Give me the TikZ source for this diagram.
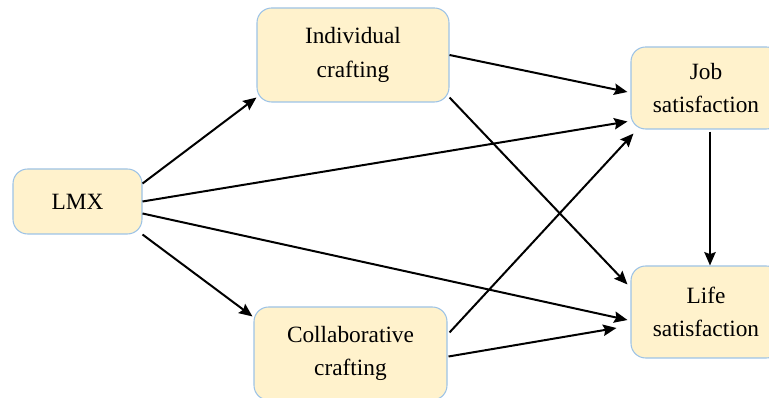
\documentclass[tikz,border=0pt]{standalone}
\usepackage{fontspec}
\setmainfont{Liberation Serif}
\usepackage{xcolor}
\usetikzlibrary{arrows.meta,positioning}
\definecolor{boxFill}{HTML}{FFF2CC}
\definecolor{boxEdge}{HTML}{9DC3E6}

\begin{document}
\begin{tikzpicture}[x=0.75pt, y=-0.75pt,
  var/.style={draw=boxEdge, fill=boxFill, rounded corners=11pt, line width=0.8pt,
    align=center, inner sep=2pt, font=\fontsize{17.5}{25}\selectfont},
  eff/.style={line width=1.5pt, -{Stealth[length=10pt,width=8.5pt,inset=1.5pt]}}]
\useasboundingbox (0,0) rectangle (769,398);
% variables
\node[var, minimum width=96.75pt, minimum height=48.75pt] (lmx) at (77.5,201.5) {LMX};
\node[var, minimum width=144pt, minimum height=70.5pt] (ind) at (353,55) {Individual\\crafting};
\node[var, minimum width=144.75pt, minimum height=69.75pt] (col) at (350.5,353.5) {Collaborative\\crafting};
\node[var, minimum width=112.5pt, minimum height=61.5pt] (job) at (706,88) {Job\\satisfaction};
\node[var, minimum width=112.5pt, minimum height=69pt] (life) at (706,312) {Life\\satisfaction};
% paths from LMX
\draw[eff] ([shift={(0,-18)}]lmx.east) -- ([shift={(0,-5)}]ind.south west);
\draw[eff] (lmx.east) -- ([shift={(-3,-8)}]job.south west);
\draw[eff] ([shift={(0,12)}]lmx.east) -- ([shift={(-3,8)}]life.west);
\draw[eff] (lmx.south east) -- ([shift={(-1,10)}]col.north west);
% paths from crafting
\draw[eff] (ind.east) -- ([shift={(-3,4)}]job.west);
\draw[eff] ([shift={(0,-5)}]ind.south east) -- ([shift={(-3,19)}]life.north west);
\draw[eff] ([shift={(2,26)}]col.north east) -- ([shift={(3,4)}]job.south west);
\draw[eff] ([shift={(1,3)}]col.east) -- ([shift={(-14,16)}]life.west);
% job to life
\draw[eff] ([shift={(4,2)}]job.south) -- ([shift={(4,0)}]life.north);
\end{tikzpicture}
\end{document}
